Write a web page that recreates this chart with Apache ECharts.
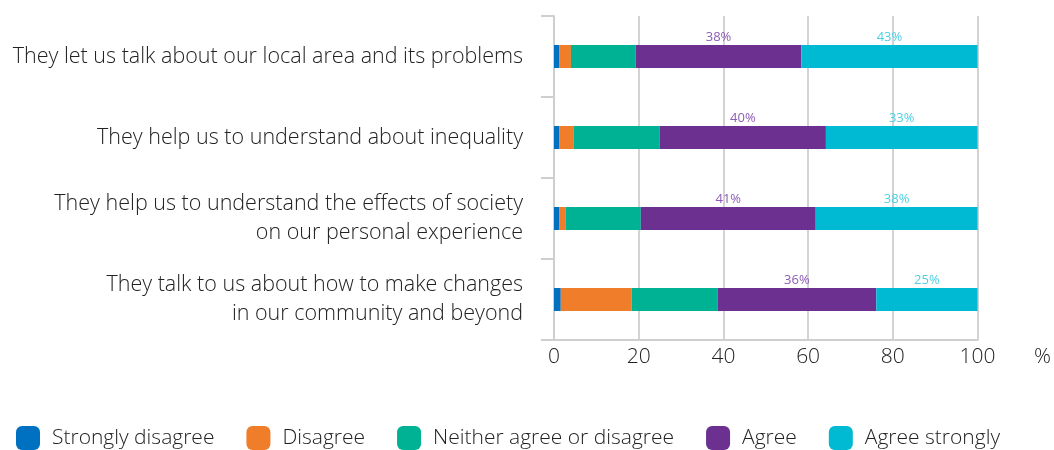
<!DOCTYPE html>
<html>
<head>
<meta charset="utf-8">
<script src="https://cdn.jsdelivr.net/npm/echarts@6/dist/echarts.min.js"></script>
<style>
    html, body { margin: 0; padding: 0; background: #fff; }
    #chart { width: 1054px; height: 450px; }
</style>
</head>
<body>
<div id="chart"></div>
<script>
// categories, top to bottom
const statements = [
    'They let us talk about our local area and its problems',
    'They help us to understand about inequality',
    'They help us to understand the effects of society\non our personal experience',
    'They talk to us about how to make changes\nin our community and beyond'
]
const tickLabels = [0, 20, 40, 60, 80, 100]

// shares per statement (%)
const stronglyDisagree = [1.2, 1.2, 1.2, 1.6]
const disagree = [2.8, 3.5, 1.6, 16.7]
const neither = [15.3, 20.3, 17.7, 20.3]
const agree = [39.1, 39.2, 41.3, 37.5]
const agreeStrongly = [41.6, 35.8, 38.2, 23.9]

// printed labels on the bars
const agreeLabels = ['38%', '40%', '41%', '36%']
const agreeStronglyLabels = ['43%', '33%', '38%', '25%']

const font = 'Open Sans'
const chart = echarts.init(document.getElementById('chart'))

const makeSeries = (name, data, color, labels, labelColor) => ({
    name: name,
    type: 'bar',
    stack: 'total',
    barWidth: 23,
    data: data,
    itemStyle: { color: color },
    label: labels ? {
        show: true,
        position: 'top',
        distance: 1,
        color: labelColor,
        fontFamily: font,
        fontSize: 13,
        formatter: p => labels[p.dataIndex]
    } : { show: false },
    emphasis: { disabled: true }
})

chart.setOption({
    animation: false,
    textStyle: { fontFamily: font },
    grid: {
        left: 554,
        right: 76,
        top: 16,
        bottom: 110
    },
    legend: {
        left: 11,
        top: 421,
        itemWidth: 24,
        itemHeight: 24,
        itemGap: 32,
        icon: 'roundRect',
        textStyle: {
            fontFamily: font,
            fontSize: 21,
            fontWeight: 300,
            lineHeight: 24,
            color: '#222',
            padding: [0, 0, 0, 7]
        }
    },
    xAxis: {
        type: 'value',
        min: 0,
        max: 100,
        interval: 20,
        name: '%',
        nameLocation: 'end',
        nameGap: 65,
        nameTextStyle: {
            fontFamily: font,
            fontSize: 21,
            fontWeight: 300,
            color: '#222',
            align: 'center',
            verticalAlign: 'top',
            padding: [7, 0, 0, 0]
        },
        axisLine: { show: true, lineStyle: { color: '#cfcfcf', width: 2 } },
        axisTick: { show: false },
        axisLabel: {
            margin: 7,
            fontSize: 21,
            fontWeight: 300,
            color: '#222',
            formatter: v => tickLabels.includes(v) ? String(v) : ''
        },
        splitLine: { show: true, lineStyle: { color: '#d3d3d3', width: 2 } }
    },
    yAxis: {
        type: 'category',
        inverse: true,
        data: statements,
        axisLine: { show: true, lineStyle: { color: '#cfcfcf', width: 2 } },
        axisTick: { show: true, length: 13, lineStyle: { color: '#cfcfcf', width: 2 } },
        axisLabel: {
            margin: 31,
            fontSize: 21.5,
            fontWeight: 300,
            lineHeight: 29,
            color: '#222',
            align: 'right'
        }
    },
    series: [
        makeSeries('Strongly disagree', stronglyDisagree, '#0070c0'),
        makeSeries('Disagree', disagree, '#ef7d2a'),
        makeSeries('Neither agree or disagree', neither, '#00b294'),
        makeSeries('Agree', agree, '#6b3090', agreeLabels, '#8d5cb6'),
        makeSeries('Agree strongly', agreeStrongly, '#00b9d3', agreeStronglyLabels, '#4ed0e4')
    ]
})
</script>
</body>
</html>
